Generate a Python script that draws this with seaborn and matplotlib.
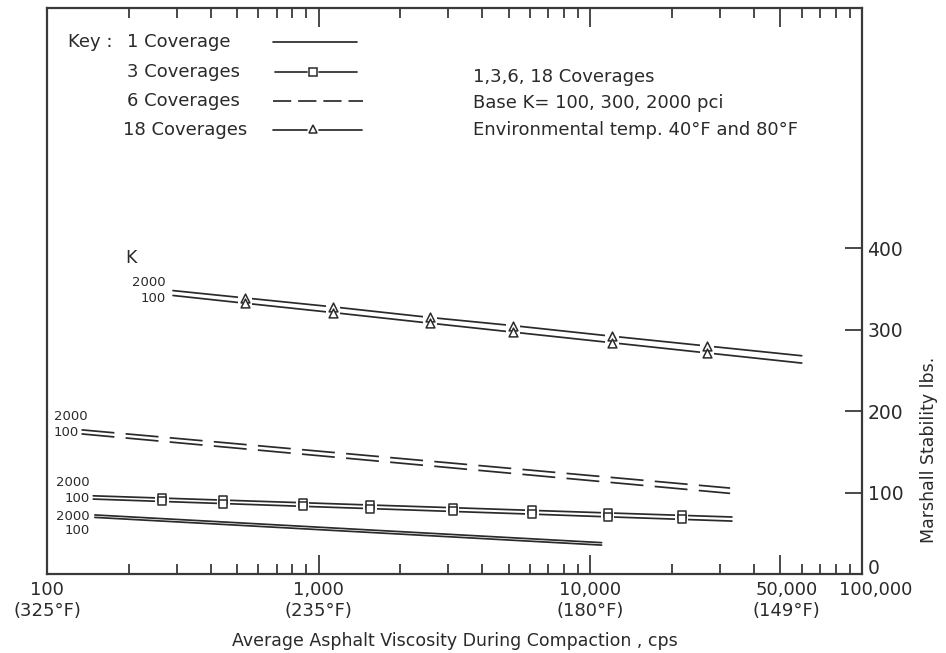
import matplotlib
matplotlib.use("Agg")
import matplotlib.pyplot as plt
import matplotlib.transforms as mtrans
from matplotlib.lines import Line2D
from matplotlib.ticker import FixedLocator, FixedFormatter, NullFormatter
import pandas as pd
import seaborn as sns

# ---------------- data ----------------
cov1_x = [150, 11000]
cov1_k2000 = [72.5, 38.5]
cov1_k100 = [69.5, 35.5]

cov3_x = [148, 265, 445, 875, 1545, 3120, 6100, 11600, 21700, 33200]
cov3_k2000 = [96, 93.2, 90.7, 87.5, 84.7, 81.4, 78.1, 75.0, 72.0, 70]
cov3_k100 = [92, 89.1, 86.5, 83.1, 80.3, 76.8, 73.5, 70.2, 67.1, 65]

cov6_x = [134, 32700]
cov6_k2000 = [177, 105.5]
cov6_k100 = [172, 99]

cov18_x = [291, 535, 1130, 2570, 5190, 12000, 26800, 60000]
cov18_k2000 = [348, 339, 328, 315, 305, 292, 280, 268]
cov18_k100 = [342, 332.5, 321, 308, 297, 284, 271.5, 259]

x_major = [100, 1000, 10000, 50000, 100000]
x_labels = ["100\n(325°F)", "1,000\n(235°F)", "10,000\n(180°F)", "50,000\n(149°F)", "100,000"]
x_minor = [200, 300, 400, 500, 600, 700, 800, 900,
           2000, 3000, 4000, 5000, 6000, 7000, 8000, 9000,
           20000, 30000, 40000, 60000, 70000, 80000, 90000]
y_ticks = [0, 100, 200, 300, 400]
y_labels = ["0", "100", "200", "300", "400"]

key_labels = ["1 Coverage", "3 Coverages", "6 Coverages", "18 Coverages"]
note_lines = ["1,3,6, 18 Coverages", "Base K= 100, 300, 2000 pci",
              "Environmental temp. 40°F and 80°F"]

# ---------------- style ----------------
sns.set_theme(style="white")
plt.rcParams["font.family"] = ["DejaVu Sans"]
INK = "#2a2a2a"
plt.rcParams["text.color"] = INK
plt.rcParams["xtick.color"] = INK
plt.rcParams["ytick.color"] = INK
plt.rcParams["axes.labelcolor"] = INK

fig = plt.figure(figsize=(9.46, 6.53), dpi=100)
ax = fig.add_axes([47 / 946, 1 - 574 / 653, 815 / 946, 566 / 653])

LW = 1.25


def draw_pair(xs, ya, yb, **kw):
    for ys in (ya, yb):
        df = pd.DataFrame({"x": xs, "y": ys})
        sns.lineplot(data=df, x="x", y="y", ax=ax, color=INK, linewidth=LW,
                     sort=False, estimator=None, zorder=2, **kw)


def draw_markers(xs, ya, yb, marker, size):
    df = pd.DataFrame({"x": list(xs[1:-1]) * 2, "y": list(ya[1:-1]) + list(yb[1:-1])})
    # knock the lines out around each marker
    sns.scatterplot(data=df, x="x", y="y", ax=ax, marker="s", s=size * 2.6,
                    color="white", edgecolor="none", linewidth=0, zorder=3)
    sns.scatterplot(data=df, x="x", y="y", ax=ax, marker=marker, s=size,
                    color="white", edgecolor=INK, linewidth=1.1, zorder=4)


draw_pair(cov1_x, cov1_k2000, cov1_k100)
draw_pair(cov3_x, cov3_k2000, cov3_k100)
draw_markers(cov3_x, cov3_k2000, cov3_k100, "s", 34)
draw_pair(cov6_x, cov6_k2000, cov6_k100, linestyle=(0, (19, 6.5)))
draw_pair(cov18_x, cov18_k2000, cov18_k100)
draw_markers(cov18_x, cov18_k2000, cov18_k100, "^", 40)

# ---------------- axes ----------------
ax.set_xscale("log")
ax.set_xlim(100, 100000)
ax.set_ylim(0, 695)
ax.xaxis.set_major_locator(FixedLocator(x_major))
ax.xaxis.set_major_formatter(FixedFormatter(x_labels))
ax.xaxis.set_minor_locator(FixedLocator(x_minor))
ax.xaxis.set_minor_formatter(NullFormatter())
ax.tick_params(axis="x", which="both", direction="in", top=True, bottom=True,
               labelsize=13, pad=5, width=1.2, colors=INK)
ax.tick_params(axis="x", which="major", length=14)
ax.tick_params(axis="x", which="minor", length=7)
for lab in ax.get_xticklabels():
    lab.set_linespacing(1.25)
labs = ax.get_xticklabels()
labs[-1].set_transform(labs[-1].get_transform() +
                       mtrans.ScaledTranslation(14 / 100, 0, fig.dpi_scale_trans))
labs[-2].set_transform(labs[-2].get_transform() +
                       mtrans.ScaledTranslation(6 / 100, 0, fig.dpi_scale_trans))

ax.yaxis.tick_right()
ax.yaxis.set_major_locator(FixedLocator(y_ticks))
ax.yaxis.set_major_formatter(FixedFormatter(y_labels))
ax.tick_params(axis="y", which="both", direction="in", left=False, right=True,
               length=12, width=1.2, labelsize=13.5, pad=4, colors=INK)
ax.yaxis.set_minor_locator(FixedLocator([]))
ylabs = ax.get_yticklabels()
ylabs[0].set_transform(ylabs[0].get_transform() +
                       mtrans.ScaledTranslation(0, 8 / 100, fig.dpi_scale_trans))

for sp in ax.spines.values():
    sp.set_visible(True)
    sp.set_linewidth(1.6)
    sp.set_color("#3a3a3a")

ax.set_xlabel("Average Asphalt Viscosity During Compaction , cps", fontsize=12.5,
              labelpad=8)
ax.yaxis.set_label_position("right")
ax.set_ylabel("Marshall Stability lbs.", fontsize=12.5, rotation=90)
ax.yaxis.set_label_coords(1.071, 0.22)

# ---------------- key ----------------
T = ax.transAxes
def px(x):
    return (x - 47) / 815
def py(y):
    return (574 - y) / 566

key_rows = [42, 72, 101, 130]
ax.text(px(68), py(key_rows[0]), "Key :", transform=T, fontsize=13,
        va="center", ha="left")
text_x = [127, 127, 127, 123]
for lab, yy, xx in zip(key_labels, key_rows, text_x):
    ax.text(px(xx), py(yy), lab, transform=T, fontsize=13, va="center", ha="left")

# sample lines
ax.add_line(Line2D([px(273), px(357)], [py(42)] * 2, transform=T, color=INK, lw=LW))
ax.add_line(Line2D([px(275), px(307)], [py(72)] * 2, transform=T, color=INK, lw=LW))
ax.add_line(Line2D([px(319), px(357)], [py(72)] * 2, transform=T, color=INK, lw=LW))
ax.add_line(Line2D([px(313)], [py(72)], transform=T, marker="s", ms=5.8,
                   mfc="white", mec=INK, mew=1.1, lw=0))
ax.add_line(Line2D([px(273), px(363)], [py(101)] * 2, transform=T, color=INK, lw=LW,
                   linestyle=(0, (10.5, 4))))
ax.add_line(Line2D([px(273), px(307)], [py(130)] * 2, transform=T, color=INK, lw=LW))
ax.add_line(Line2D([px(319), px(362)], [py(130)] * 2, transform=T, color=INK, lw=LW))
ax.add_line(Line2D([px(313)], [py(129)], transform=T, marker="^", ms=6.3,
                   mfc="white", mec=INK, mew=1.1, lw=0))

for line, yy in zip(note_lines, [77, 103, 130]):
    ax.text(px(473), py(yy), line, transform=T, fontsize=13, va="center", ha="left")

# ---------------- K labels ----------------
ax.text(px(125), py(258), "K", transform=T, fontsize=12.5, va="center", ha="left")
small = 9.5
ax.text(px(166), py(283), "2000", transform=T, fontsize=small, va="center", ha="right")
ax.text(px(166), py(299), "100", transform=T, fontsize=small, va="center", ha="right")
ax.text(px(54), py(416), "2000", transform=T, fontsize=small, va="center", ha="left")
ax.text(px(54), py(432), "100", transform=T, fontsize=small, va="center", ha="left")
ax.text(px(90), py(483), "2000", transform=T, fontsize=small, va="center", ha="right")
ax.text(px(90), py(498), "100", transform=T, fontsize=small, va="center", ha="right")
ax.text(px(90), py(517), "2000", transform=T, fontsize=small, va="center", ha="right")
ax.text(px(90), py(531), "100", transform=T, fontsize=small, va="center", ha="right")

fig.savefig("out.png", dpi=100, facecolor="white")
